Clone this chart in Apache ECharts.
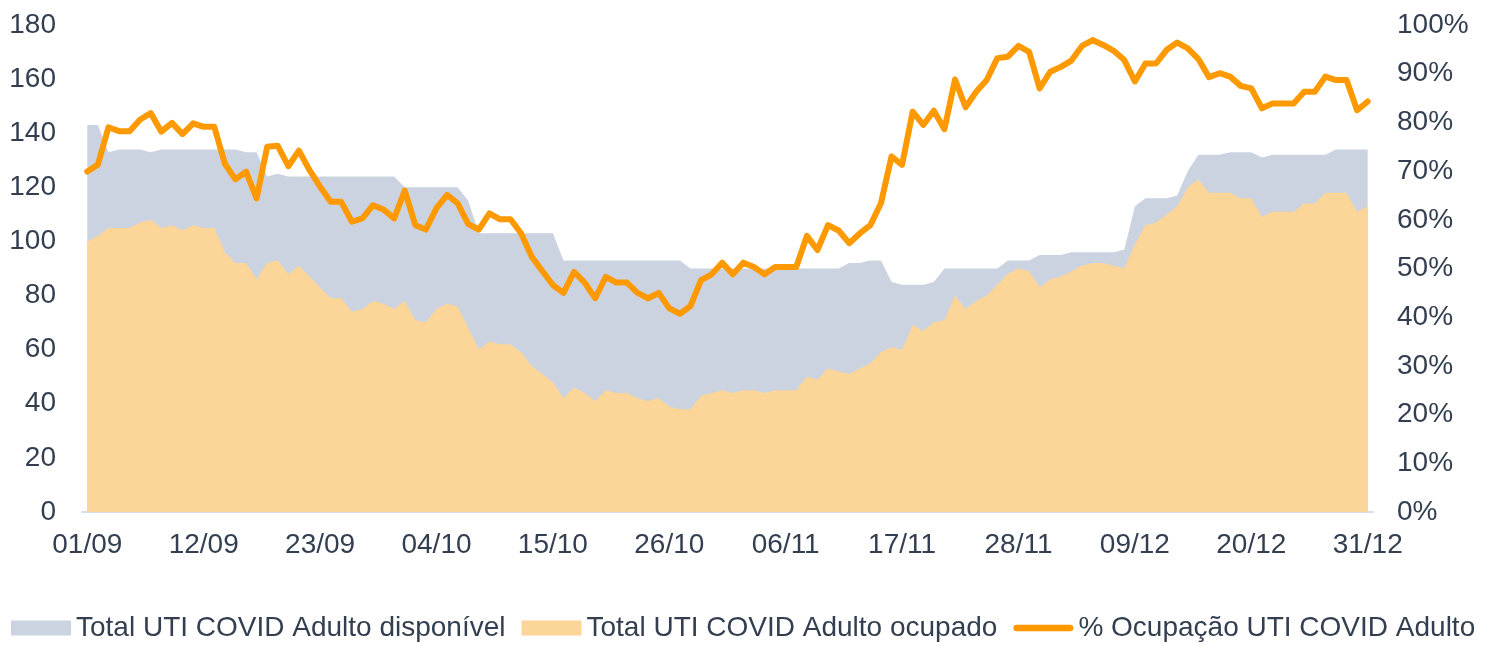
<!DOCTYPE html>
<html>
<head>
<meta charset="utf-8">
<script src="https://cdn.jsdelivr.net/npm/echarts@6/dist/echarts.min.js"></script>
<style>
  html, body { margin: 0; padding: 0; background: #fff; }
  #chart { width: 1487px; height: 645px; }
</style>
</head>
<body>
<div id="chart"></div>
<script>
// daily categories 01/09 .. 31/12
var months = ['09', '10', '11', '12']
var monthDays = [30, 31, 30, 31]
var dates = []
for (var m = 0; m < months.length; m++) {
  for (var d = 1; d <= monthDays[m]; d++) {
    dates.push((d < 10 ? '0' + d : '' + d) + '/' + months[m])
  }
}

// Total UTI COVID Adulto disponível
var disponivel = [
  143, 143, 133, 134, 134, 134, 133, 134, 134, 134,
  134, 134, 134, 134, 134, 133, 133, 124, 125, 124,
  124, 124, 124, 124, 124, 124, 124, 124, 124, 124,
  120, 120, 120, 120, 120, 120, 115, 103, 103, 103,
  103, 103, 103, 103, 103, 93, 93, 93, 93, 93,
  93, 93, 93, 93, 93, 93, 93, 90, 90, 90,
  90, 90, 90, 90, 90, 90, 90, 90, 90, 90,
  90, 90, 92, 92, 93, 93, 85, 84, 84, 84,
  85, 90, 90, 90, 90, 90, 90, 93, 93, 93,
  95, 95, 95, 96, 96, 96, 96, 96, 97, 113,
  116, 116, 116, 117, 126, 132, 132, 132, 133, 133,
  133, 131, 132, 132, 132, 132, 132, 132, 134, 134,
  134, 134
]

// Total UTI COVID Adulto ocupado
var ocupado = [
  100, 102, 105, 105, 105, 107, 108, 105, 106, 104,
  106, 105, 105, 96, 92, 92, 86, 92, 93, 88,
  91, 87, 83, 79, 79, 74, 75, 78, 77, 75,
  78, 71, 70, 75, 77, 76, 68, 60, 63, 62,
  62, 59, 54, 51, 48, 42, 46, 44, 41, 45,
  44, 44, 42, 41, 42, 39, 38, 38, 43, 44,
  45, 44, 45, 45, 44, 45, 45, 45, 50, 49,
  53, 52, 51, 53, 55, 59, 61, 60, 69, 67,
  70, 71, 80, 75, 78, 80, 84, 88, 90, 89,
  83, 86, 87, 89, 91, 92, 92, 91, 90, 99,
  106, 107, 110, 113, 120, 123, 118, 118, 118, 116,
  116, 109, 111, 111, 111, 114, 114, 118, 118, 118,
  111, 113
]

// % Ocupação UTI COVID Adulto
var ocupacao = [
  69.9, 71.3, 79.0, 78.2, 78.2, 80.6, 81.9, 78.1, 79.9, 77.6,
  79.8, 79.1, 79.1, 71.5, 68.3, 69.9, 64.4, 75.0, 75.2, 71.0,
  74.2, 70.2, 66.8, 63.7, 63.7, 59.6, 60.3, 63.0, 62.1, 60.3,
  66.0, 58.9, 58.0, 62.4, 65.1, 63.4, 59.1, 58.0, 61.3, 60.1,
  60.1, 57.2, 52.4, 49.5, 46.6, 45.0, 49.3, 47.1, 43.9, 48.3,
  47.1, 47.1, 45.0, 43.9, 45.0, 41.8, 40.7, 42.3, 47.6, 48.8,
  51.2, 48.8, 51.2, 50.3, 48.8, 50.3, 50.3, 50.3, 56.7, 53.8,
  58.9, 57.8, 55.2, 57.2, 58.9, 63.4, 73.0, 71.3, 82.2, 79.5,
  82.4, 78.6, 88.8, 83.1, 86.3, 88.7, 93.2, 93.5, 95.7, 94.5,
  87.0, 90.4, 91.4, 92.7, 95.7, 96.9, 95.9, 94.7, 92.8, 88.4,
  92.1, 92.1, 94.9, 96.4, 95.2, 93.0, 89.3, 90.1, 89.4, 87.5,
  87.0, 82.9, 83.9, 83.9, 83.9, 86.3, 86.3, 89.4, 88.7, 88.7,
  82.5, 84.3
]

var textColor = '#333f50'
var font = 'Liberation Sans'

var chart = echarts.init(document.getElementById('chart'))
var option = {
  animation: false,
  backgroundColor: '#fff',
  grid: {
    left: 82,
    right: 114,
    top: 25,
    bottom: 133
  },
  legend: {
    bottom: 3,
    left: 11,
    padding: 0,
    itemWidth: 60,
    itemHeight: 15,
    itemGap: 16,
    textStyle: {
      color: textColor,
      fontFamily: font,
      fontSize: 28
    },
    data: [
      { name: 'Total UTI COVID Adulto disponível', icon: 'rect' },
      { name: 'Total UTI COVID Adulto ocupado', icon: 'rect' },
      {
        name: '% Ocupação UTI COVID Adulto',
        icon: 'path://M3.5,0 L61.5,0 A3.5,3.5 0 0 1 61.5,7 L3.5,7 A3.5,3.5 0 0 1 3.5,0 Z'
      }
    ]
  },
  xAxis: {
    type: 'category',
    boundaryGap: true,
    data: dates,
    axisLine: {
      lineStyle: { color: '#d6dce8', width: 2 }
    },
    axisTick: {
      interval: 10,
      length: 7,
      lineStyle: { color: '#d6dce8', width: 2 }
    },
    axisLabel: {
      interval: 10,
      margin: 19,
      color: textColor,
      fontFamily: font,
      fontSize: 28
    },
    splitLine: { show: false }
  },
  yAxis: [
    {
      type: 'value',
      min: 0,
      max: 180,
      interval: 20,
      axisLine: { show: false },
      axisTick: { show: false },
      splitLine: { show: false },
      axisLabel: {
        margin: 26,
        color: textColor,
        fontFamily: font,
        fontSize: 28
      }
    },
    {
      type: 'value',
      min: 0,
      max: 100,
      interval: 10,
      axisLine: { show: false },
      axisTick: { show: false },
      splitLine: { show: false },
      axisLabel: {
        margin: 24,
        formatter: '{value}%',
        color: textColor,
        fontFamily: font,
        fontSize: 28
      }
    }
  ],
  series: [
    {
      name: 'Total UTI COVID Adulto disponível',
      type: 'line',
      data: disponivel,
      symbol: 'none',
      lineStyle: { width: 0 },
      itemStyle: { color: '#cbd3e1' },
      areaStyle: { color: '#cbd3e1', opacity: 1 },
      z: 1
    },
    {
      name: 'Total UTI COVID Adulto ocupado',
      type: 'line',
      data: ocupado,
      symbol: 'none',
      lineStyle: { width: 0 },
      itemStyle: { color: '#fcd598' },
      areaStyle: { color: '#fcd598', opacity: 1 },
      z: 2
    },
    {
      name: '% Ocupação UTI COVID Adulto',
      type: 'line',
      yAxisIndex: 1,
      data: ocupacao,
      symbol: 'none',
      itemStyle: { color: '#ff9900' },
      lineStyle: { color: '#ff9900', width: 6, cap: 'round', join: 'round' },
      z: 3
    }
  ]
}
chart.setOption(option)
</script>
</body>
</html>
